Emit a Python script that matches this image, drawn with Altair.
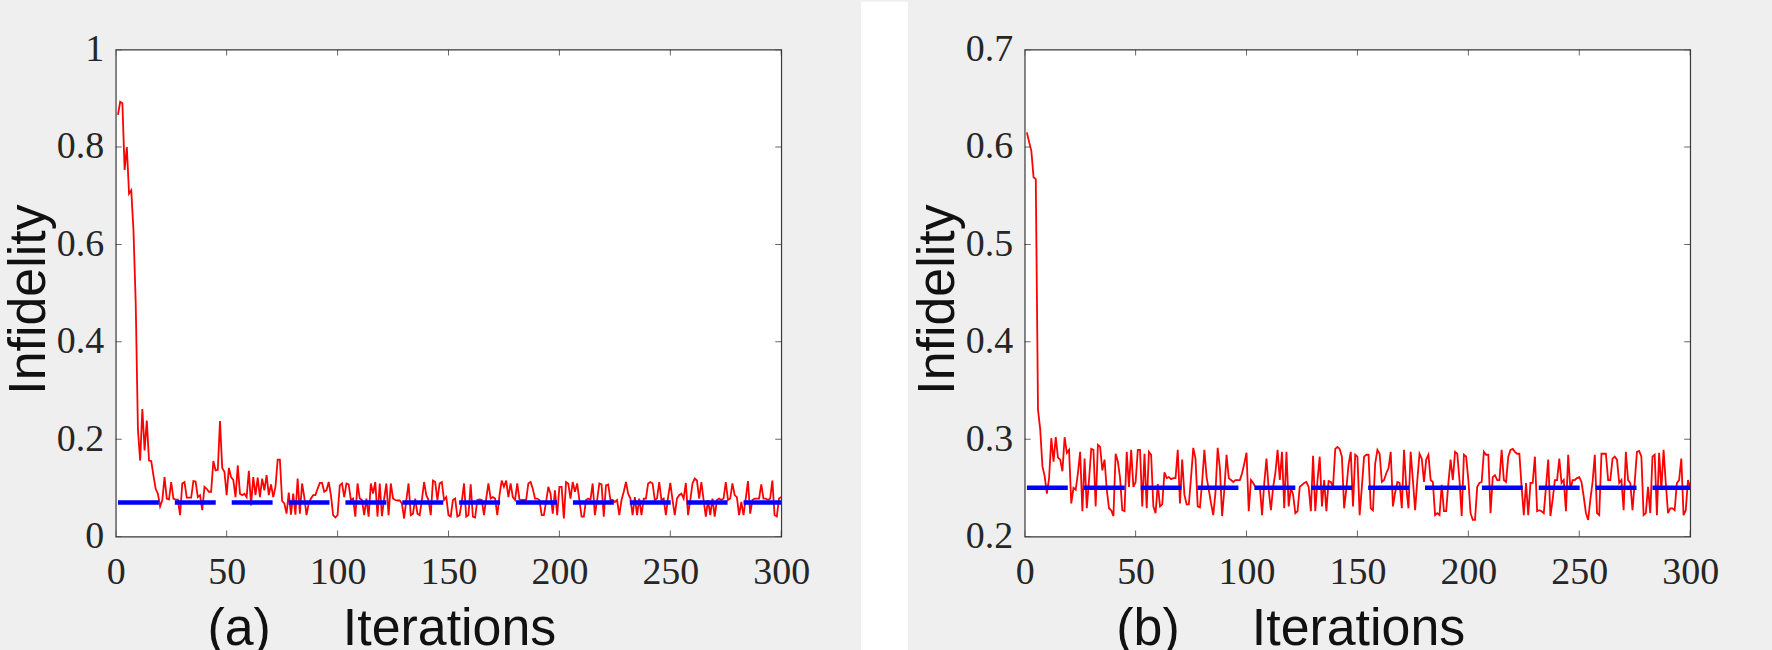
import altair as alt
import pandas as pd

# ---------------- data ----------------
iterations = list(range(1, 301))

infidelity_a = [
    0.866, 0.893, 0.890, 0.753, 0.800, 0.704, 0.711, 0.628, 0.480, 0.220,
    0.156, 0.262, 0.177, 0.238, 0.156, 0.155, 0.125, 0.098, 0.088, 0.062,
    0.075, 0.122, 0.078, 0.076, 0.112, 0.078, 0.076, 0.076, 0.044, 0.109,
    0.112, 0.080, 0.080, 0.080, 0.114, 0.113, 0.081, 0.085, 0.054, 0.102,
    0.098, 0.092, 0.092, 0.155, 0.136, 0.137, 0.237, 0.141, 0.133, 0.085,
    0.141, 0.122, 0.116, 0.081, 0.146, 0.088, 0.085, 0.088, 0.081, 0.135,
    0.064, 0.122, 0.085, 0.121, 0.081, 0.119, 0.095, 0.126, 0.085, 0.107,
    0.081, 0.102, 0.158, 0.158, 0.073, 0.068, 0.047, 0.090, 0.045, 0.088,
    0.045, 0.119, 0.047, 0.109, 0.081, 0.044, 0.068, 0.078, 0.085, 0.085,
    0.098, 0.110, 0.110, 0.092, 0.095, 0.112, 0.085, 0.044, 0.039, 0.044,
    0.105, 0.109, 0.081, 0.109, 0.107, 0.075, 0.078, 0.041, 0.109, 0.078,
    0.075, 0.044, 0.078, 0.041, 0.109, 0.088, 0.112, 0.041, 0.109, 0.042,
    0.078, 0.109, 0.044, 0.109, 0.078, 0.075, 0.074, 0.074, 0.068, 0.037,
    0.075, 0.109, 0.044, 0.047, 0.078, 0.047, 0.044, 0.075, 0.112, 0.085,
    0.075, 0.044, 0.115, 0.112, 0.075, 0.109, 0.112, 0.075, 0.081, 0.044,
    0.041, 0.075, 0.078, 0.041, 0.044, 0.071, 0.109, 0.041, 0.044, 0.107,
    0.041, 0.039, 0.075, 0.076, 0.075, 0.044, 0.078, 0.109, 0.078, 0.081,
    0.078, 0.044, 0.085, 0.115, 0.102, 0.115, 0.081, 0.109, 0.081, 0.075,
    0.109, 0.076, 0.075, 0.075, 0.075, 0.109, 0.112, 0.098, 0.078, 0.078,
    0.075, 0.044, 0.044, 0.071, 0.102, 0.088, 0.047, 0.095, 0.044, 0.102,
    0.102, 0.037, 0.112, 0.109, 0.078, 0.112, 0.092, 0.109, 0.075, 0.041,
    0.041, 0.075, 0.078, 0.075, 0.109, 0.044, 0.075, 0.109, 0.107, 0.041,
    0.105, 0.107, 0.075, 0.075, 0.071, 0.075, 0.044, 0.075, 0.092, 0.112,
    0.088, 0.078, 0.044, 0.081, 0.044, 0.078, 0.044, 0.078, 0.078, 0.109,
    0.112, 0.109, 0.075, 0.078, 0.112, 0.075, 0.078, 0.044, 0.081, 0.110,
    0.075, 0.044, 0.078, 0.085, 0.088, 0.078, 0.110, 0.044, 0.075, 0.109,
    0.119, 0.115, 0.078, 0.112, 0.075, 0.041, 0.075, 0.044, 0.078, 0.041,
    0.075, 0.078, 0.075, 0.078, 0.112, 0.075, 0.078, 0.109, 0.085, 0.081,
    0.044, 0.071, 0.044, 0.078, 0.114, 0.047, 0.075, 0.078, 0.078, 0.078,
    0.107, 0.078, 0.078, 0.075, 0.078, 0.115, 0.044, 0.041, 0.078, 0.081,
]

infidelity_b = [
    0.615, 0.605, 0.596, 0.569, 0.567, 0.330, 0.310, 0.272, 0.262, 0.244,
    0.260, 0.301, 0.277, 0.302, 0.281, 0.279, 0.267, 0.302, 0.286, 0.289,
    0.234, 0.250, 0.248, 0.265, 0.287, 0.226, 0.280, 0.229, 0.258, 0.290,
    0.289, 0.231, 0.294, 0.292, 0.268, 0.279, 0.248, 0.229, 0.227, 0.221,
    0.285, 0.277, 0.260, 0.227, 0.226, 0.287, 0.251, 0.289, 0.251, 0.256,
    0.289, 0.289, 0.231, 0.285, 0.229, 0.287, 0.284, 0.231, 0.224, 0.254,
    0.231, 0.233, 0.266, 0.260, 0.261, 0.259, 0.260, 0.260, 0.289, 0.234,
    0.279, 0.243, 0.233, 0.233, 0.261, 0.291, 0.280, 0.231, 0.230, 0.256,
    0.289, 0.261, 0.248, 0.234, 0.222, 0.245, 0.291, 0.270, 0.221, 0.248,
    0.284, 0.260, 0.258, 0.256, 0.258, 0.258, 0.258, 0.265, 0.275, 0.286,
    0.226, 0.258, 0.255, 0.251, 0.250, 0.251, 0.222, 0.255, 0.280, 0.248,
    0.227, 0.251, 0.265, 0.289, 0.258, 0.287, 0.229, 0.287, 0.231, 0.250,
    0.243, 0.224, 0.226, 0.251, 0.253, 0.255, 0.256, 0.251, 0.226, 0.283,
    0.226, 0.258, 0.282, 0.231, 0.258, 0.226, 0.257, 0.256, 0.251, 0.290,
    0.292, 0.290, 0.282, 0.229, 0.249, 0.274, 0.287, 0.231, 0.284, 0.282,
    0.222, 0.251, 0.282, 0.284, 0.284, 0.229, 0.227, 0.275, 0.289, 0.285,
    0.256, 0.258, 0.265, 0.270, 0.287, 0.231, 0.245, 0.256, 0.255, 0.229,
    0.289, 0.251, 0.229, 0.287, 0.258, 0.227, 0.258, 0.285, 0.280, 0.256,
    0.279, 0.284, 0.258, 0.256, 0.222, 0.224, 0.222, 0.253, 0.226, 0.226,
    0.255, 0.279, 0.258, 0.287, 0.285, 0.258, 0.221, 0.284, 0.282, 0.258,
    0.224, 0.217, 0.217, 0.251, 0.255, 0.256, 0.287, 0.284, 0.284, 0.224,
    0.261, 0.263, 0.258, 0.258, 0.289, 0.258, 0.256, 0.282, 0.289, 0.290,
    0.287, 0.285, 0.285, 0.251, 0.222, 0.255, 0.222, 0.255, 0.255, 0.282,
    0.226, 0.227, 0.226, 0.224, 0.251, 0.279, 0.221, 0.238, 0.258, 0.258,
    0.280, 0.255, 0.258, 0.226, 0.284, 0.248, 0.258, 0.258, 0.260, 0.261,
    0.256, 0.241, 0.224, 0.217, 0.238, 0.256, 0.284, 0.224, 0.222, 0.285,
    0.285, 0.285, 0.258, 0.258, 0.280, 0.282, 0.279, 0.255, 0.258, 0.227,
    0.287, 0.258, 0.255, 0.227, 0.256, 0.287, 0.288, 0.282, 0.222, 0.224,
    0.251, 0.224, 0.282, 0.284, 0.222, 0.286, 0.248, 0.289, 0.255, 0.224,
    0.229, 0.229, 0.227, 0.255, 0.258, 0.280, 0.222, 0.227, 0.258, 0.251,
]

reference_a = 0.07
reference_b = 0.25
reference_span = [1, 300]

x_ticks = [0, 50, 100, 150, 200, 250, 300]
y_ticks_a = [0, 0.2, 0.4, 0.6, 0.8, 1]
y_ticks_b = [0.2, 0.3, 0.4, 0.5, 0.6, 0.7]

# ---------------- style ----------------
BG = "#efefef"
AXC = "#262626"
W, H = 667, 488
NBSP = "\u00a0"


def panel(values, ref, ydomain, yticks, letter, white_strip):
    df = pd.DataFrame({"it": iterations, "v": values})
    ref_df = pd.DataFrame({"it": reference_span, "v": [ref, ref]})
    xt = pd.DataFrame({"t": x_ticks})
    yt = pd.DataFrame({"t": yticks})
    one = pd.DataFrame({"k": [0]})

    xs = alt.Scale(domain=[0, 300], nice=False, zero=False)
    ys = alt.Scale(domain=ydomain, nice=False, zero=False)

    xaxis = alt.Axis(
        values=x_ticks, ticks=False, domain=False, grid=False,
        labelFont="Liberation Serif", labelFontSize=38, labelColor=AXC,
        labelPadding=17, labelFlush=False,
        title="(" + letter + ")" + NBSP * 5 + "Iterations",
        titleFont="Liberation Sans", titleFontSize=52, titleFontWeight="normal",
        titleColor="#111111", titleAlign="right", titleAnchor="start",
        titleX=441, titleY=108, titleBaseline="alphabetic",
    )
    yaxis = alt.Axis(
        values=yticks, ticks=False, domain=False, grid=False, format="~g",
        labelFont="Liberation Serif", labelFontSize=38, labelColor=AXC,
        labelPadding=12, labelFlush=False,
        title="Infidelity",
        titleFont="Liberation Sans", titleFontSize=52, titleFontWeight="normal",
        titleColor="#111111", titleAlign="center", titleAnchor="start",
        titleX=-71, titleY=250, titleBaseline="alphabetic", titleAngle=270,
    )

    red = alt.Chart(df).mark_line(color="#ff0000", strokeWidth=1.8).encode(
        x=alt.X("it:Q", scale=xs, axis=xaxis),
        y=alt.Y("v:Q", scale=ys, axis=yaxis),
    )
    blue = alt.Chart(ref_df).mark_line(
        color="#0000ff", strokeWidth=4.5, strokeDash=[41, 16], strokeCap="butt"
    ).encode(x=alt.X("it:Q", scale=xs), y=alt.Y("v:Q", scale=ys))

    tk = dict(color=AXC, thickness=1, size=12, clip=True)
    xt_bot = alt.Chart(xt).mark_tick(orient="vertical", **tk).encode(
        x=alt.X("t:Q", scale=xs), y=alt.value(H))
    xt_top = alt.Chart(xt).mark_tick(orient="vertical", **tk).encode(
        x=alt.X("t:Q", scale=xs), y=alt.value(0))
    yt_left = alt.Chart(yt).mark_tick(orient="horizontal", **tk).encode(
        y=alt.Y("t:Q", scale=ys), x=alt.value(0))
    yt_right = alt.Chart(yt).mark_tick(orient="horizontal", **tk).encode(
        y=alt.Y("t:Q", scale=ys), x=alt.value(W))

    layers = []
    # layout spacers / figure background strips
    layers.append(alt.Chart(one).mark_rect(fill=BG).encode(
        x=alt.value(-115), x2=alt.value(-114), y=alt.value(-48), y2=alt.value(H + 114)))
    if white_strip:
        layers.append(alt.Chart(one).mark_rect(fill="#ffffff").encode(
            x=alt.value(W + 80), x2=alt.value(W + 127), y=alt.value(-48), y2=alt.value(H + 114)))
    else:
        layers.append(alt.Chart(one).mark_rect(fill=BG).encode(
            x=alt.value(W + 80), x2=alt.value(W + 81), y=alt.value(-48), y2=alt.value(H + 114)))
    layers += [red, blue, xt_bot, xt_top, yt_left, yt_right]
    return alt.layer(*layers).properties(width=W, height=H)


pa = panel(infidelity_a, reference_a, [0, 1], y_ticks_a, "a", True)
pb = panel(infidelity_b, reference_b, [0.2, 0.7], y_ticks_b, "b", False)

chart = alt.hconcat(pa, pb, spacing=0).properties(
    padding=0, background=BG
).configure_view(
    fill="white", stroke="#3a3a3a", strokeWidth=1.2
)

chart.save("out.html", embed_options={"renderer": "svg", "actions": False})
